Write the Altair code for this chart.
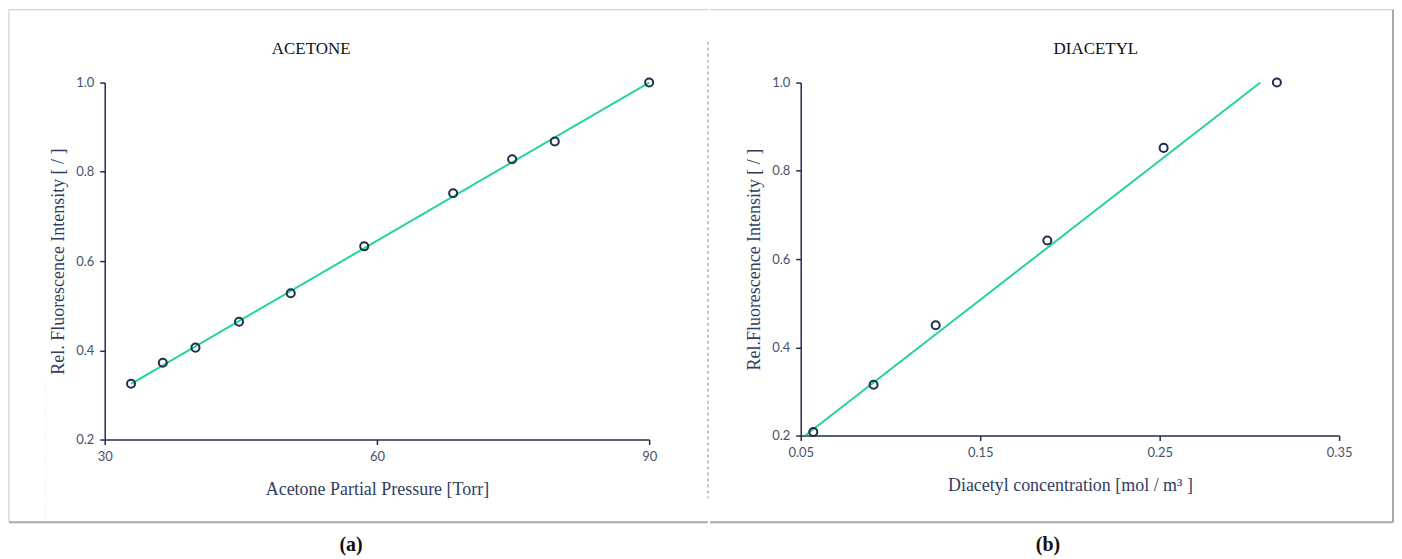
import altair as alt
import pandas as pd

# ---- data ----
acetone_pressure = [32.9, 36.4, 40.0, 44.8, 50.5, 58.6, 68.4, 74.9, 79.6, 90.0]
acetone_intensity = [0.325, 0.372, 0.406, 0.464, 0.528, 0.633, 0.752, 0.828, 0.868, 1.0]
acetone_fit_x = [32.9, 90.0]
acetone_fit_y = [0.325, 1.0]

diacetyl_conc = [0.057, 0.0906, 0.1252, 0.1874, 0.2522, 0.3153]
diacetyl_intensity = [0.208, 0.315, 0.450, 0.642, 0.852, 1.0]
diacetyl_fit_x = [0.0525, 0.3061]
diacetyl_fit_y = [0.2, 1.0]

acetone_ticks = [30, 60, 90]
diacetyl_ticks = [0.05, 0.15, 0.25, 0.35]
intensity_ticks = [0.2, 0.4, 0.6, 0.8, 1.0]

LINE = "#22d49a"
POINT = "#1f3050"
BORDER = "#c4c4c4"
SERIF = "Liberation Serif"

one = pd.DataFrame({"k": [0]})


def hrule(x1, x2, y, color=BORDER, width=1, dash=None):
    kw = dict(color=color, strokeWidth=width)
    if dash:
        kw["strokeDash"] = dash
    return alt.Chart(one).mark_rule(**kw).encode(
        x=alt.value(x1), x2=alt.value(x2), y=alt.value(y))


def vrule(x, y1, y2, color=BORDER, width=1, dash=None):
    kw = dict(color=color, strokeWidth=width)
    if dash:
        kw["strokeDash"] = dash
    return alt.Chart(one).mark_rule(**kw).encode(
        x=alt.value(x), y=alt.value(y1), y2=alt.value(y2))


def label(text, x, y, size, weight="normal"):
    return alt.Chart(one).mark_text(
        text=text, font=SERIF, fontSize=size, fontWeight=weight,
        color="#111111", align="center", baseline="middle"
    ).encode(x=alt.value(x), y=alt.value(y))


def panel(xs, ys, fx, fy, xdom, xticks, xfmt, xtitle, ytitle):
    pts = pd.DataFrame({"x": xs, "y": ys})
    fit = pd.DataFrame({"x": fx, "y": fy})
    xsc = alt.Scale(domain=xdom, nice=False, zero=False)
    ysc = alt.Scale(domain=[0.2, 1.0], nice=False, zero=False)
    xax = alt.Axis(values=xticks, format=xfmt, title=xtitle, labelFlush=False)
    yax = alt.Axis(values=intensity_ticks, format=".1f", title=ytitle, labelFlush=False)
    line = alt.Chart(fit).mark_line(color=LINE, strokeWidth=2).encode(
        x=alt.X("x:Q", scale=xsc, axis=xax),
        y=alt.Y("y:Q", scale=ysc, axis=yax),
    )
    dots = alt.Chart(pts).mark_point(
        shape="circle", filled=False, color=POINT, strokeWidth=2, size=65, opacity=1
    ).encode(
        x=alt.X("x:Q", scale=xsc),
        y=alt.Y("y:Q", scale=ysc),
    )
    return line, dots


la, da = panel(acetone_pressure, acetone_intensity, acetone_fit_x, acetone_fit_y,
               [30, 90], acetone_ticks, "d", "Acetone Partial Pressure [Torr]",
               "Rel. Fluorescence Intensity [ / ]")
lb, db = panel(diacetyl_conc, diacetyl_intensity, diacetyl_fit_x, diacetyl_fit_y,
               [0.05, 0.35], diacetyl_ticks, ".2f", "Diacetyl concentration [mol / m³ ]",
               "Rel.Fluorescence Intensity [ / ]")

left = alt.layer(
    hrule(-96, 605, -73),
    vrule(-96, -73, 441),
    hrule(-96, 605, 441, color="#a8a8a8", width=2),
    vrule(-59, 300, 441, color="#e6e6e6", dash=[1, 2]),
    vrule(605, -41, 417, color="#8a8a8a", dash=[3, 3]),
    label("ACETONE", 207, -34, 17),
    label("(a)", 247, 464, 20, "bold"),
    la, da,
).properties(width=546, height=358)

right = alt.layer(
    hrule(-91, 594, -73),
    vrule(594, -73, 441, color="#a8a8a8", width=2),
    hrule(-91, 594, 441, color="#a8a8a8", width=2),
    label("DIACETYL", 296, -34, 17),
    label("(b)", 248, 464, 20, "bold"),
    lb, db,
).properties(width=540, height=354)

chart = alt.hconcat(left, right, spacing=0).properties(
    padding={"left": 0, "top": 0, "right": 0, "bottom": 0}
).configure_view(stroke=None).configure_axis(
    grid=False,
    domainColor="#1f2d4a",
    domainWidth=1.5,
    tickColor="#1f2d4a",
    tickWidth=1.5,
    tickSize=5,
    labelFont="Lato",
    labelFontSize=13,
    labelColor="#44546a",
    labelPadding=6,
    titleFont=SERIF,
    titleFontSize=18,
    titleFontWeight="normal",
    titleColor="#2f3e5e",
).configure_axisX(titlePadding=17).configure_axisY(titlePadding=8)

chart.save("out.html", embed_options={"renderer": "svg", "actions": False})
